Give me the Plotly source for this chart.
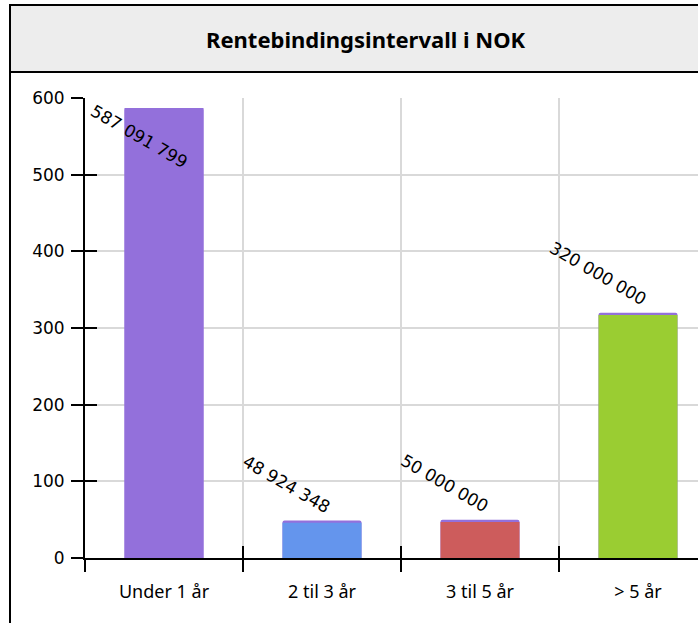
import plotly.graph_objects as go

# ---- data ----
categories = ["Under 1 år", "2 til 3 år", "3 til 5 år", "> 5 år"]
values_mnok = [587.091799, 48.924348, 50.0, 320.0]
value_labels = ["587 091 799", "48 924 348", "50 000 000", "320 000 000"]
bar_colors = ["#9370DB", "#6495ED", "#CD5C5C", "#9ACD32"]
cap_color = "#9370DB"
cap_units = 3.0  # thickness of purple top strip, in axis units
y_ticks = [0, 100, 200, 300, 400, 500, 600]
title_text = "Rentebindingsintervall i NOK"

# ---- layout geometry (pixels) ----
W, H = 698, 623
L, R, T, B = 85, 0, 98, 65
pw, ph = W - L - R, H - T - B
cat_px = 158.0
x_range = [-0.5, -0.5 + pw / cat_px]
y_range = [0, 600]

def px_x(px):
    return (px - L) / pw

def px_y(py):
    return 1 + (T - py) / ph

fig = go.Figure()

# full-height purple bars (provide the purple cap)
fig.add_trace(go.Bar(
    x=categories, y=values_mnok, width=0.5,
    marker=dict(color=cap_color, line_width=0, cornerradius=2),
    hoverinfo="skip", showlegend=False,
))
# coloured bars, slightly shorter, overlaid
fig.add_trace(go.Bar(
    x=categories,
    y=[v if i == 0 else v - cap_units for i, v in enumerate(values_mnok)],
    width=0.5,
    marker=dict(color=bar_colors, line_width=0),
    hoverinfo="skip", showlegend=False,
))
# invisible trace to hold the overlay axes (crossing ticks)
fig.add_trace(go.Scatter(x=x_range, y=y_range, xaxis="x2", yaxis="y2",
                         mode="markers", marker=dict(opacity=0),
                         hoverinfo="skip", showlegend=False))

label_font = dict(family="DejaVu Sans", size=17, color="black")
annotations = []
for i, (v, lab) in enumerate(zip(values_mnok, value_labels)):
    fits = (v / (y_range[1] - y_range[0])) * ph + 70 < ph
    if fits:
        annotations.append(dict(x=i, y=v, xref="x", yref="y", text=lab,
                                showarrow=False, textangle=30,
                                xanchor="right", yanchor="bottom",
                                xshift=14, yshift=1, font=label_font))
    else:
        annotations.append(dict(x=i, y=y_range[1], xref="x", yref="y", text=lab,
                                showarrow=False, textangle=30,
                                xanchor="right", yanchor="top",
                                xshift=29, yshift=0, font=label_font))

# title
annotations.append(dict(x=px_x(366), y=px_y(39), xref="paper", yref="paper",
                        text="<b>" + title_text + "</b>", showarrow=False,
                        xanchor="center", yanchor="middle",
                        font=dict(family="Noto Sans", size=22, color="black")))

shapes = [
    # title band
    dict(type="rect", xref="paper", yref="paper",
         x0=px_x(10), x1=px_x(720), y0=px_y(72), y1=px_y(5),
         fillcolor="#EDEDED", line=dict(color="black", width=2), layer="below"),
    # outer frame left line
    dict(type="line", xref="paper", yref="paper",
         x0=px_x(10), x1=px_x(10), y0=px_y(5), y1=px_y(640),
         line=dict(color="black", width=2)),
]

fig.update_layout(
    width=W, height=H,
    margin=dict(l=L, r=R, t=T, b=B, pad=0),
    paper_bgcolor="white", plot_bgcolor="white",
    barmode="overlay",
    annotations=annotations,
    shapes=shapes,
    xaxis=dict(
        type="category", categoryorder="array", categoryarray=categories,
        range=x_range, tickson="boundaries",
        showgrid=True, gridcolor="#D9D9D9", gridwidth=2,
        showline=True, linecolor="black", linewidth=2,
        ticks="outside", ticklen=12, tickwidth=2, tickcolor="black",
        ticklabelstandoff=16,
        tickfont=dict(family="Noto Sans", size=18, color="black"),
        zeroline=False, fixedrange=True,
    ),
    yaxis=dict(
        range=y_range, tickvals=y_ticks,
        showgrid=True, gridcolor="#D9D9D9", gridwidth=2,
        showline=True, linecolor="black", linewidth=2,
        ticks="outside", ticklen=12, tickwidth=2, tickcolor="black",
        ticklabelstandoff=3,
        tickfont=dict(family="DejaVu Sans", size=17, color="black"),
        zeroline=False, fixedrange=True,
    ),
    xaxis2=dict(overlaying="x", range=x_range, tickvals=[-0.5, 0.5, 1.5, 2.5, 3.5],
                showticklabels=False, showgrid=False, zeroline=False,
                ticks="inside", ticklen=12, tickwidth=2, tickcolor="black",
                side="bottom", anchor="y2", showline=False),
    yaxis2=dict(overlaying="y", range=y_range, tickvals=y_ticks,
                showticklabels=False, showgrid=False, zeroline=False,
                ticks="inside", ticklen=12, tickwidth=2, tickcolor="black",
                side="left", anchor="x2", showline=False),
)

fig.write_html("out.html", config={"displayModeBar": False},
               post_script="document.body.style.margin='0';")
